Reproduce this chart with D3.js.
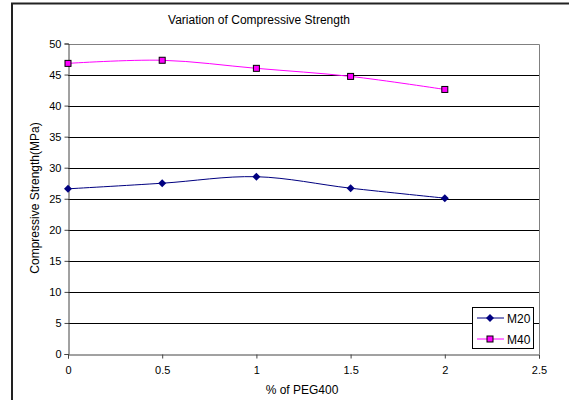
<!DOCTYPE html>
<html><head><meta charset="utf-8">
<script src="https://cdn.jsdelivr.net/npm/d3@7"></script>
<style>body{margin:0;background:#fff}svg{display:block}text{font-family:Arial,"Liberation Sans",sans-serif;fill:#000}</style>
</head><body>
<script>
const xValues = [0, 0.5, 1, 1.5, 2];
const m20 = [26.6, 27.5, 28.55, 26.7, 25.1];
const m40 = [46.8, 47.3, 46.0, 44.7, 42.6];
const seriesNames = ["M20", "M40"];
const xTicks = [0, 0.5, 1, 1.5, 2, 2.5];
const yTicks = [0, 5, 10, 15, 20, 25, 30, 35, 40, 45, 50];

const W = 569, H = 400;
const svg = d3.select("body").append("svg").attr("width", W).attr("height", H);
// outer chart border
svg.append("rect").attr("x", 12).attr("y", 3.5).attr("width", 600).attr("height", 500)
  .attr("fill", "none").attr("stroke", "#222").attr("stroke-width", 2);

const x = d3.scaleLinear().domain([0, 2.5]).range([68, 539]);
const y = d3.scaleLinear().domain([0, 50]).range([354, 43.5]);

// gridlines
svg.append("g").selectAll("line").data(yTicks.filter(d => d > 0 && d < 50)).join("line")
  .attr("x1", x(0)).attr("x2", x(2.5)).attr("y1", d => Math.round(y(d)) + 0.5).attr("y2", d => Math.round(y(d)) + 0.5)
  .attr("stroke", "#000").attr("stroke-width", 1);
// plot border top/right
svg.append("path").attr("d", `M${x(0)},${Math.round(y(50))+0.5}H${x(2.5)+0.5}V${y(0)}`)
  .attr("fill", "none").attr("stroke", "#808080");

// axes
const xAxis = d3.axisBottom(x).tickValues(xTicks).tickSize(4).tickPadding(8).tickFormat(d => d);
const gx = svg.append("g").attr("transform", `translate(0,${Math.round(y(0))+0.5})`).call(xAxis);
const yAxis = d3.axisLeft(y).tickValues(yTicks).tickSize(4).tickPadding(3);
const gy = svg.append("g").attr("transform", `translate(${x(0)+0.5},0)`).call(yAxis);
[gx, gy].forEach(g => {
  g.select(".domain").attr("stroke", "#444");
  g.selectAll(".tick line").attr("stroke", "#444");
  g.selectAll("text").attr("font-size", 11).attr("font-family", "Arial, 'Liberation Sans', sans-serif").attr("fill", "#000");
});

// lines
const line = d3.line().x(d => x(d[0])).y(d => y(d[1])).curve(d3.curveCatmullRom.alpha(0));
const d20 = xValues.map((v, i) => [v, m20[i]]);
const d40 = xValues.map((v, i) => [v, m40[i]]);
svg.append("path").attr("d", line(d20)).attr("fill", "none").attr("stroke", "#000080").attr("stroke-width", 1);
svg.append("path").attr("d", line(d40)).attr("fill", "none").attr("stroke", "#FF00FF").attr("stroke-width", 1);

const diamondPath = "M0,-4L4,0L0,4L-4,0Z";
svg.append("g").selectAll("path").data(d20).join("path")
  .attr("d", diamondPath)
  .attr("transform", d => `translate(${x(d[0])},${y(d[1])})`).attr("fill", "#000080");
svg.append("g").selectAll("rect").data(d40).join("rect")
  .attr("x", d => x(d[0]) - 3).attr("y", d => y(d[1]) - 3).attr("width", 6).attr("height", 6)
  .attr("fill", "#FF00FF").attr("stroke", "#000").attr("stroke-width", 1);

// titles
svg.append("text").attr("x", 259).attr("y", 24).attr("text-anchor", "middle").attr("font-size", 12).text("Variation of Compressive Strength");
svg.append("text").attr("x", 302).attr("y", 394).attr("text-anchor", "middle").attr("font-size", 12).text("% of PEG400");
svg.append("text").attr("transform", "translate(39,198) rotate(-90)").attr("text-anchor", "middle").attr("font-size", 12).text("Compressive Strength(MPa)");

// legend
const lg = svg.append("g");
lg.append("rect").attr("x", 472.5).attr("y", 307.5).attr("width", 61).attr("height", 41).attr("fill", "#fff").attr("stroke", "#000");
const rows = [318, 339];
seriesNames.forEach((n, i) => {
  const cy = rows[i];
  lg.append("line").attr("x1", 477).attr("x2", 504).attr("y1", cy).attr("y2", cy).attr("stroke", i ? "#FF00FF" : "#000080");
  if (i === 0) lg.append("path").attr("d", diamondPath).attr("transform", `translate(490,${cy})`).attr("fill", "#000080");
  else lg.append("rect").attr("x", 487).attr("y", cy - 3).attr("width", 6).attr("height", 6).attr("fill", "#FF00FF").attr("stroke", "#000");
  lg.append("text").attr("x", 507).attr("y", cy + 5).attr("font-size", 12).text(n);
});
</script>
</body></html>
